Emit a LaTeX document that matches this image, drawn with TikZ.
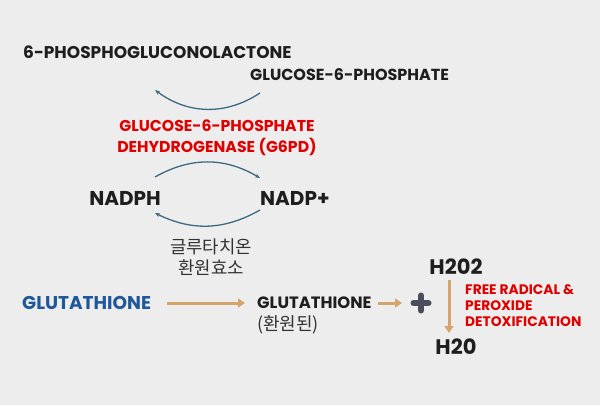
\documentclass[tikz,border=0pt]{standalone}
\usepackage{fontspec}
\setmainfont{Poppins}
\newfontfamily\krfont{Noto Sans CJK KR}
\usetikzlibrary{positioning,arrows.meta,calc}
\definecolor{BgGrey}{HTML}{EDEDED}
\definecolor{InkDark}{HTML}{1E1E1E}
\definecolor{EnzRed}{HTML}{E00000}
\definecolor{GshBlue}{HTML}{1F5898}
\definecolor{CycTeal}{HTML}{3D6A80}
\definecolor{FlowTan}{HTML}{D4A46C}
\definecolor{PlusGrey}{HTML}{4A4D5C}
\definecolor{KrGrey}{HTML}{333333}

\begin{document}
\begin{tikzpicture}[x=1pt,y=-1pt,
  every node/.style={inner sep=0pt, text=InkDark},
  metab/.style={font=\bfseries\fontsize{17}{20}\selectfont},
  cofac/.style={font=\bfseries\fontsize{20}{22}\selectfont},
  enzyme/.style={text=EnzRed, align=center, font=\bfseries\fontsize{15.7}{21}\selectfont},
  kor/.style={text=KrGrey, align=center, font=\krfont\fontsize{17.8}{21}\selectfont},
  cyc/.style={draw=CycTeal, line width=1.3pt, -{Stealth[length=5pt,width=4pt]}},
  flow/.style={draw=FlowTan, line width=3pt, -{Triangle[length=7pt,width=9pt]}},
  plusbar/.style={draw=PlusGrey, line width=6pt, line cap=round}]
  \fill[BgGrey] (0,0) rectangle (600,405);
  \useasboundingbox (0,0) rectangle (600,405);

  % pentose phosphate step
  \node[metab, anchor=west] (pgl) at (23,52) {6-PHOSPHOGLUCONOLACTONE};
  \node[metab, anchor=west, font=\bfseries\fontsize{16}{20}\selectfont] (g6p) at (250,75) {GLUCOSE-6-PHOSPHATE};
  \coordinate (g6p-out) at (260,93);
  \coordinate (pgl-in) at (155,90);
  \draw[cyc] (g6p-out) to[bend left=35] (pgl-in);

  \node[enzyme] (g6pd) at (217,138) {GLUCOSE-6-PHOSPHATE\\DEHYDROGENASE (G6PD)};

  % NADPH cycle
  \node[cofac, anchor=east] (nadph) at (161,198) {NADPH};
  \node[cofac, anchor=west] (nadp) at (260,198) {NADP+};
  \coordinate (top-a) at (155,177);
  \coordinate (top-b) at (260,178);
  \coordinate (bot-a) at (260,210);
  \coordinate (bot-b) at (155,213);
  \draw[cyc] (top-a) to[bend left=30] (top-b);
  \draw[cyc] (bot-a) to[bend left=28] (bot-b);

  \node[kor] (gr) at (211,257) {글루타치온\\환원효소};

  % glutathione
  \node[metab, text=GshBlue, anchor=west, font=\bfseries\fontsize{18.5}{20}\selectfont] (gsh) at (22,303) {GLUTATHIONE};
  \node[font=\bfseries\fontsize{16.4}{18}\selectfont, anchor=west] (gshr) at (257,303) {GLUTATHIONE};
  \node[kor, anchor=west, font=\krfont\fontsize{18}{21}\selectfont] (gshr-kr) at (257,325) {(환원된)};
  \coordinate (gsh-out) at (167,303);
  \coordinate (gshr-in) at (245,303);
  \draw[flow] (gsh-out) -- (gshr-in);
  \coordinate (gshr-out) at (378,303);
  \coordinate (plus-in) at (402,303);
  \draw[flow] (gshr-out) -- (plus-in);

  \node (plus) at (421,303) {};
  \draw[plusbar] ($(plus)+(-7.5,0)$) -- ($(plus)+(7.5,0)$);
  \draw[plusbar] ($(plus)+(0,-7.5)$) -- ($(plus)+(0,7.5)$);

  % peroxide
  \node[cofac, font=\bfseries\fontsize{21}{22}\selectfont] (h2o2) at (456,267) {H202};
  \node[cofac, font=\bfseries\fontsize{21}{22}\selectfont] (h2o) at (456,347) {H20};
  \coordinate (h2o2-out) at (449,280);
  \coordinate (h2o-in) at (449,333);
  \draw[flow] (h2o2-out) -- (h2o-in);
  \node[enzyme, align=left, anchor=west, font=\bfseries\fontsize{13.8}{16}\selectfont] (detox) at (465,306) {FREE RADICAL \&\\PEROXIDE\\DETOXIFICATION};
\end{tikzpicture}
\end{document}
